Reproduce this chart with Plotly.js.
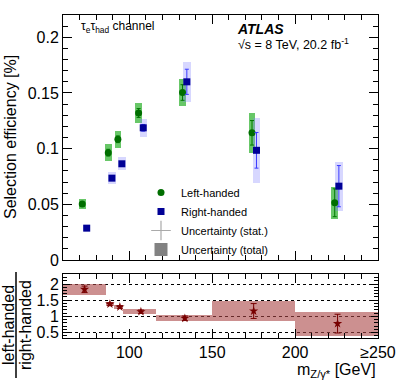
<!DOCTYPE html>
<html>
<head>
<meta charset="utf-8">
<script src="https://cdn.plot.ly/plotly-3.0.1.min.js"></script>
<style>
  html, body { margin: 0; padding: 0; background: #fff; }
  #plot { width: 399px; height: 385px; }
</style>
</head>
<body>
<div id="plot"></div>
<script>
// mass bins (GeV), last bin is >= 200
const binLo = [60, 86, 91, 96, 116, 150, 200];
const binHi = [86, 91, 96, 116, 150, 200, 250];

// selection efficiency, left-handed taus
const massLeft = [71.6, 87.3, 93.1, 105.6, 132.1, 174.0, 223.9];
const effLeft = [0.0503, 0.0964, 0.1084, 0.1320, 0.1504, 0.1142, 0.0514];
const statLeft = [0.002, 0.003, 0.003, 0.004, 0.007, 0.011, 0.0125];
const totLeft = [0.0048, 0.0075, 0.0075, 0.0086, 0.0118, 0.0177, 0.0145];

// selection efficiency, right-handed taus
const massRight = [74.3, 89.5, 95.5, 108.4, 134.7, 176.7, 226.4];
const effRight = [0.0286, 0.0735, 0.0864, 0.1187, 0.1600, 0.0985, 0.0663];
const statRight = [0.0015, 0.002, 0.002, 0.003, 0.0113, 0.016, 0.0185];
const totRight = [0.0025, 0.0055, 0.006, 0.008, 0.018, 0.029, 0.022];

// ratio left / right
const massRatio = [73, 88.3, 94.3, 107, 133.5, 175, 225.6];
const ratio = [1.835, 1.38, 1.29, 1.145, 0.94, 1.165, 0.775];
const statRatio = [0.1, 0.04, 0.04, 0.05, 0.07, 0.23, 0.29];
const totRatio = [0.165, 0.06, 0.06, 0.07, 0.09, 0.31, 0.37];

// plot area in pixels (used for placing text outside the axes)
const W = 399, H = 385;
const mL = 63, mR = 21, mT = 15, mB = 47;
const px = (x) => (x - mL) / (W - mL - mR);
const py = (y) => (H - mB - y) / (H - mT - mB);

const font = 'Liberation Sans, Arial, sans-serif';

const green = 'rgb(0,110,0)';
const navy = 'rgb(0,0,150)';

const traces = [
  // total uncertainty boxes
  {
    type: 'bar', x: massLeft, base: effLeft.map((v, i) => v - totLeft[i]),
    y: totLeft.map(e => 2 * e), width: 4, xaxis: 'x2', yaxis: 'y2',
    marker: { color: 'rgba(40,175,40,0.7)', line: { width: 0 } },
    showlegend: false, hoverinfo: 'skip'
  },
  {
    type: 'bar', x: massRight, base: effRight.map((v, i) => v - totRight[i]),
    y: totRight.map(e => 2 * e), width: 4.5, xaxis: 'x2', yaxis: 'y2',
    marker: { color: 'rgba(130,130,255,0.32)', line: { width: 0 } },
    showlegend: false, hoverinfo: 'skip'
  },
  // points with stat. errors
  {
    type: 'scatter', mode: 'markers', x: massLeft, y: effLeft, xaxis: 'x2', yaxis: 'y2',
    showlegend: false,
    marker: { symbol: 'circle', size: 7, color: green },
    error_y: { type: 'data', array: statLeft, visible: true, color: 'rgb(0,120,0)', thickness: 1, width: 2 }
  },
  {
    type: 'scatter', mode: 'markers', x: massRight, y: effRight, xaxis: 'x2', yaxis: 'y2',
    showlegend: false,
    marker: { symbol: 'square', size: 7, color: navy },
    error_y: { type: 'data', array: statRight, visible: true, color: 'rgb(60,60,255)', thickness: 1, width: 2 }
  },
  // legend-only entries
  {
    type: 'scatter', mode: 'markers', x: [null], y: [null], xaxis: 'x2', yaxis: 'y2',
    name: 'Left-handed', marker: { symbol: 'circle', size: 7, color: green }
  },
  {
    type: 'scatter', mode: 'markers', x: [null], y: [null], xaxis: 'x2', yaxis: 'y2',
    name: 'Right-handed', marker: { symbol: 'square', size: 7, color: navy }
  },
  {
    type: 'scatter', mode: 'markers', x: [null], y: [null], xaxis: 'x2', yaxis: 'y2',
    name: 'Uncertainty (stat.)',
    marker: { symbol: 'cross-thin-open', size: 14, color: 'rgb(170,170,170)', line: { width: 1.2, color: 'rgb(170,170,170)' } }
  },
  {
    type: 'scatter', mode: 'markers', x: [null], y: [null], xaxis: 'x2', yaxis: 'y2',
    name: 'Uncertainty (total)',
    marker: { symbol: 'square', size: 13, color: 'rgb(130,130,130)' }
  },
  // ratio panel
  {
    type: 'bar', x: binLo.map((v, i) => (v + binHi[i]) / 2), width: binLo.map((v, i) => binHi[i] - v),
    base: ratio.map((v, i) => v - totRatio[i]), y: totRatio.map(e => 2 * e),
    marker: { color: 'rgba(170,70,70,0.6)', line: { width: 0 } },
    showlegend: false, hoverinfo: 'skip'
  },
  {
    type: 'scatter', mode: 'markers', x: massRatio, y: ratio, showlegend: false,
    marker: { symbol: 'star', size: 7, color: 'rgb(120,0,0)' },
    error_y: { type: 'data', array: statRatio, visible: true, color: 'rgb(120,0,0)', thickness: 1, width: 3 }
  }
];

const axisCommon = {
  showline: true, linecolor: 'black', linewidth: 1, mirror: 'allticks',
  ticks: 'inside', ticklen: 9, tickcolor: 'black', zeroline: false, showgrid: false,
  tickfont: { family: font, size: 16, color: 'black' }
};

const layout = {
  width: W, height: H,
  margin: { l: mL, r: mR, t: mT, b: mB },
  paper_bgcolor: 'white', plot_bgcolor: 'white',
  barmode: 'overlay', bargap: 0,
  font: { family: font, color: 'black' },
  showlegend: true,
  legend: {
    x: px(141), y: py(178), xanchor: 'left', yanchor: 'top',
    bgcolor: 'rgba(0,0,0,0)', font: { family: font, size: 11, color: 'black' },
    tracegroupgap: 0, traceorder: 'normal', itemwidth: 30
  },
  xaxis: Object.assign({}, axisCommon, {
    domain: [0, 1], anchor: 'y', range: [60, 250],
    tickmode: 'array', tickvals: [100, 150, 200, 250], ticktext: ['100', '150', '200', '≥250'],
    minor: { tickmode: 'linear', tick0: 0, dtick: 10, ticks: 'inside', ticklen: 5, tickcolor: 'black' }
  }),
  yaxis: Object.assign({}, axisCommon, {
    domain: [0, py(274)], anchor: 'x', range: [0.33, 2.31],
    tickmode: 'array', tickvals: [0.5, 1, 1.5, 2], ticktext: ['0.5', '1', '1.5', '2'],
    ticklen: 7,
    showgrid: true, gridcolor: 'black', griddash: 'dot', gridwidth: 1,
    minor: { tickmode: 'linear', tick0: 0, dtick: 0.1, ticks: 'inside', ticklen: 4, tickcolor: 'black' }
  }),
  xaxis2: Object.assign({}, axisCommon, {
    domain: [0, 1], anchor: 'y2', range: [60, 250], showticklabels: false,
    tickmode: 'linear', tick0: 0, dtick: 50,
    minor: { tickmode: 'linear', tick0: 0, dtick: 10, ticks: 'inside', ticklen: 5, tickcolor: 'black' }
  }),
  yaxis2: Object.assign({}, axisCommon, {
    domain: [py(260), 1], anchor: 'x2', range: [0, 0.22],
    tickmode: 'linear', tick0: 0, dtick: 0.05,
    minor: { tickmode: 'linear', tick0: 0, dtick: 0.01, ticks: 'inside', ticklen: 5, tickcolor: 'black' }
  }),
  shapes: [
    { type: 'line', xref: 'paper', yref: 'paper', x0: px(16), x1: px(16), y0: py(272), y1: py(378),
      line: { color: 'black', width: 1.5 } }
  ],
  annotations: [
    { xref: 'paper', yref: 'paper', x: px(10), y: py(137), text: 'Selection efficiency [%]',
      textangle: -90, showarrow: false, xanchor: 'center', yanchor: 'middle',
      font: { family: font, size: 16, color: 'black' } },
    { xref: 'paper', yref: 'paper', x: px(8), y: py(325), text: 'left-handed',
      textangle: -90, showarrow: false, xanchor: 'center', yanchor: 'middle',
      font: { family: font, size: 16, color: 'black' } },
    { xref: 'paper', yref: 'paper', x: px(25), y: py(325), text: 'right-handed',
      textangle: -90, showarrow: false, xanchor: 'center', yanchor: 'middle',
      font: { family: font, size: 16, color: 'black' } },
    { xref: 'paper', yref: 'paper', x: px(378), y: py(370), text: 'm<sub>Z/γ*</sub> [GeV]',
      showarrow: false, xanchor: 'right', yanchor: 'middle',
      font: { family: font, size: 16, color: 'black' } },
    { xref: 'paper', yref: 'paper', x: px(79), y: py(27), text: 'τ<sub>e</sub>τ<sub>had</sub> channel',
      showarrow: false, xanchor: 'left', yanchor: 'middle',
      font: { family: font, size: 12, color: 'black' } },
    { xref: 'paper', yref: 'paper', x: px(235), y: py(29), text: '<b><i>ATLAS</i></b>',
      showarrow: false, xanchor: 'left', yanchor: 'middle',
      font: { family: font, size: 14, color: 'black' } },
    { xref: 'paper', yref: 'paper', x: px(236), y: py(44), text: '√s = 8 TeV, 20.2 fb<sup>-1</sup>',
      showarrow: false, xanchor: 'left', yanchor: 'middle',
      font: { family: font, size: 12.5, color: 'black' } }
  ]
};

Plotly.newPlot('plot', traces, layout, { displayModeBar: false, staticPlot: true });
</script>
</body>
</html>
